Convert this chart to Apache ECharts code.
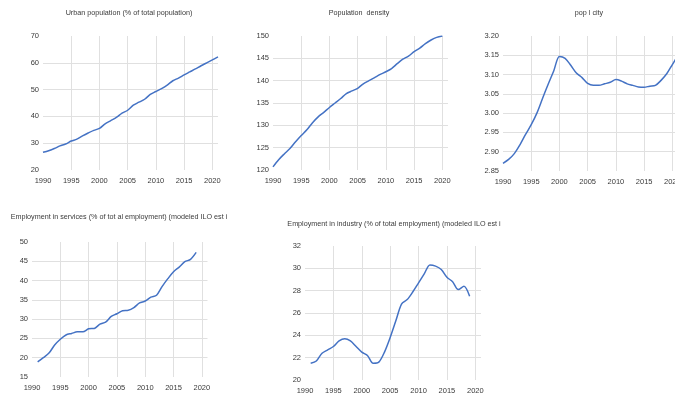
<!DOCTYPE html>
<html><head><meta charset="utf-8">
<script src="https://cdn.jsdelivr.net/npm/echarts@6/dist/echarts.min.js"></script>
<style>html,body{margin:0;padding:0;background:#fff}#c{width:675px;height:396px}</style>
</head><body><div id="c"></div>
<script>
const titles = [
  "Urban population (% of total population)",
  "Population  density",
  "pop l city",
  "Employment in services (% of tot al employment) (modeled ILO est i",
  "Employment in industry (% of total employment) (modeled ILO est i"
];
const yearsA = [1990,1991,1992,1993,1994,1995,1996,1997,1998,1999,2000,2001,2002,2003,2004,2005,2006,2007,2008,2009,2010,2011,2012,2013,2014,2015,2016,2017,2018,2019,2020,2021];
const yearsB = [1991,1992,1993,1994,1995,1996,1997,1998,1999,2000,2001,2002,2003,2004,2005,2006,2007,2008,2009,2010,2011,2012,2013,2014,2015,2016,2017,2018,2019];
const urban = [26.6,27.2,28.0,29.0,29.7,30.8,31.5,32.7,33.8,34.8,35.5,37.2,38.4,39.6,41.2,42.3,44.2,45.3,46.4,48.2,49.3,50.4,51.7,53.3,54.3,55.5,56.6,57.7,58.9,60.0,61.1,62.2];
const density = [120.7,122.3,123.6,124.8,126.3,127.7,129.0,130.6,131.9,132.9,134.0,135.0,136.0,137.1,137.7,138.3,139.3,140.0,140.7,141.4,142.0,142.7,143.8,144.8,145.5,146.5,147.3,148.3,149.1,149.7,150.0];
const popCity = [2.870,2.880,2.895,2.918,2.945,2.970,3.000,3.038,3.075,3.110,3.147,3.142,3.124,3.104,3.092,3.077,3.072,3.072,3.076,3.080,3.087,3.083,3.076,3.072,3.068,3.067,3.070,3.072,3.085,3.102,3.126,3.150];
const services = [18.9,20.0,21.2,23.3,24.8,25.9,26.3,26.7,26.7,27.5,27.6,28.7,29.2,30.7,31.4,32.2,32.3,33.0,34.2,34.7,35.7,36.2,38.5,40.5,42.3,43.5,44.9,45.5,47.3];
const industry = [21.5,21.7,22.4,22.7,23.0,23.5,23.7,23.5,23.0,22.5,22.2,21.5,21.6,22.5,23.8,25.3,26.8,27.2,27.9,28.7,29.5,30.3,30.2,29.9,29.2,28.8,28.1,28.4,27.5];
const yMin = [20, 120, 2.85, 15, 20];
const yMax = [70, 150, 3.20, 50, 32];
const yStep = [10, 5, 0.05, 5, 2];
const yDec = [0, 0, 2, 0, 0];

const panels = [
  {x: yearsA, y: urban},
  {x: yearsA.slice(0, 31), y: density},
  {x: yearsA, y: popCity},
  {x: yearsB, y: services},
  {x: yearsB, y: industry}
];
const grids = [
  {left: 43, top: 36, width: 175, height: 134},
  {left: 273, top: 36, width: 175, height: 134},
  {left: 503, top: 36, width: 175, height: 135},
  {left: 32, top: 242, width: 175.5, height: 135},
  {left: 305, top: 246, width: 176, height: 134}
];
const titlePos = [[129, 10], [359, 10], [589, 10], [119, 214], [394, 221]];

const FONT = "'Liberation Sans',Arial,sans-serif";
const TXT = '#3a3a3a';
const GRIDC = '#e0e0e0';

const option = {
  animation: false,
  backgroundColor: '#fff',
  title: titles.map((t, i) => ({
    text: t, left: titlePos[i][0], top: titlePos[i][1], padding: 0,
    textAlign: 'center',
    textStyle: {fontFamily: FONT, fontSize: 7.2, fontWeight: 'normal', color: TXT}
  })),
  grid: grids.map(g => Object.assign({containLabel: false, outerBoundsMode: 'none'}, g)),
  xAxis: grids.map((g, i) => ({
    type: 'value', gridIndex: i, min: 1990, max: 2021, interval: 5,
    axisLine: {show: false}, axisTick: {show: false},
    axisLabel: {fontFamily: FONT, fontSize: 7.5, color: TXT, margin: 7, showMaxLabel: false,
      hideOverlap: false, formatter: v => String(v)},
    splitLine: {show: true, showMinLine: false, showMaxLine: false, lineStyle: {color: GRIDC, width: 1}}
  })),
  yAxis: grids.map((g, i) => ({
    type: 'value', gridIndex: i, min: yMin[i], max: yMax[i], interval: yStep[i],
    axisLine: {show: false}, axisTick: {show: false},
    axisLabel: {fontFamily: FONT, fontSize: 7.5, color: TXT, margin: 4,
      formatter: v => Number(v).toFixed(yDec[i])},
    splitLine: {show: true, showMinLine: false, showMaxLine: false, lineStyle: {color: GRIDC, width: 1}}
  })),
  series: panels.map((p, i) => ({
    type: 'line', xAxisIndex: i, yAxisIndex: i,
    data: p.x.map((yr, k) => [yr, p.y[k]]),
    showSymbol: false, smooth: 0.3,
    lineStyle: {color: '#4472C4', width: 1.5},
    itemStyle: {color: '#4472C4'}
  }))
};
const chart = echarts.init(document.getElementById('c'), null, {renderer: 'canvas'});
chart.setOption(option);
</script>
</body></html>
